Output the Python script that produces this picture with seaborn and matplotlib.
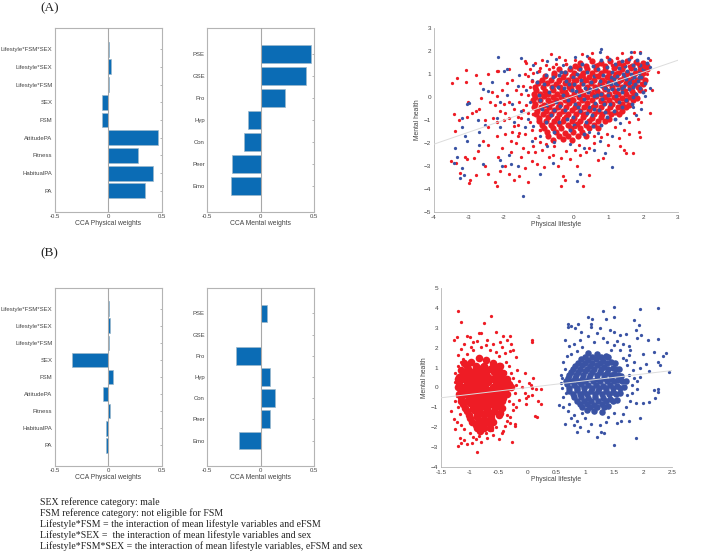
import matplotlib
matplotlib.use("Agg")
import matplotlib.pyplot as plt
import pandas as pd
import seaborn as sns

physical_labels = ["Lifestyle*FSM*SEX", "Lifestyle*SEX", "Lifestyle*FSM", "SEX", "FSM",
                   "AttitudePA", "Fitness", "HabitualPA", "PA"]
mental_labels = ["PSE", "GSE", "Pro", "Hyp", "Con", "Peer", "Emo"]

a_physical = [0.005, 0.025, 0.01, -0.055, -0.06, 0.465, 0.28, 0.425, 0.35]
a_mental = [0.47, 0.425, 0.23, -0.115, -0.155, -0.265, -0.28]
b_physical = [0.012, 0.02, 0.01, -0.34, 0.045, -0.045, 0.015, -0.015, -0.015]
b_mental = [0.06, 0.003, -0.225, 0.085, 0.135, 0.085, -0.2]

# fitted lines, read at the ends of the axes
a_line_x = [-4, 3]
a_line_y = [-2.05, 1.6]
b_line_x = [-1.5, 2.5]
b_line_y = [-0.52, 0.85]

# the clouds hold thousands of dots, these are estimates of what can be made out
a_red_out = [(-3.48, .6), (-3.33, .84), (-3.07, 1.18), (-3.07, .67), (-2.8, .96), (-2.69, .61), (-2.44, 1.0),
             (-2.2, 1.15), (-2.15, 1.12), (-1.85, 1.2), (-3.43, -.74), (-3.41, -1.47), (-3.28, -.99), (-3.02, -.23),
             (-3.05, -.85), (-2.9, -.7), (-2.8, -.6), (-2.7, -.5), (-2.65, -.05), (-2.4, -.2), (-2.35, .22),
             (-2.2, .05), (-2.05, .3), (-2.0, -.3), (-1.9, .6), (-1.75, .75), (-2.1, -.6), (-2.3, -.9), (-2.55, -1.0),
             (-2.45, -1.3), (-2.2, -1.1), (-2.0, -1.0), (-1.85, -.9), (-1.7, -.5), (-1.65, .3), (-3.5, -2.8),
             (-3.37, -2.85), (-3.25, -3.32), (-3.0, -3.72), (-2.96, -3.6), (-3.1, -2.6), (-3.05, -2.7), (-2.85, -2.65),
             (-2.75, -2.35), (-2.8, -3.4), (-2.55, -3.0), (-2.45, -3.35), (-2.25, -3.7), (-2.2, -3.85), (-2.1, -3.2),
             (-2.15, -2.6), (-2.05, -2.2), (-1.95, -3.0), (-1.85, -3.35), (-1.8, -2.4), (-1.7, -3.6), (-1.65, -2.0),
             (-2.6, -1.9), (-2.45, -2.1), (-2.2, -1.7), (-1.95, -1.6), (-1.75, -1.5), (-1.6, -1.2), (-1.55, -3.45),
             (-1.3, -3.7), (-1.4, -3.1), (-1.2, -2.8), (-1.05, -2.9), (-.9, -2.3), (-.85, -3.05), (-.6, -2.5),
             (-.35, -3.85), (-.45, -3.0), (-.3, -3.45), (-.25, -3.6), (-.1, -2.7), (.1, -3.0), (.2, -2.5), (.28, -3.85),
             (.45, -3.4), (.35, -2.4), (.7, -2.75), (.85, -2.65), (1.0, -2.1), (1.35, -2.15), (1.45, -2.3), (1.5, -2.45),
             (1.7, -2.43), (1.9, -1.75), (1.87, -1.5), (2.2, -.7), (2.25, .3), (2.43, 1.1), (1.6, -1.6), (1.3, -1.8),
             (.6, -2.0), (-1.4, 1.55), (-1.35, 1.5), (-1.1, 1.5), (-.9, 1.6), (-.65, 1.85), (-.4, 1.75), (.25, 1.85),
             (.52, 1.9), (-.8, 1.4), (-1.25, 1.2), (1.4, 1.9), (1.75, 1.95), (1.9, 1.95), (2.2, 1.6), (2.1, 1.0),
             (-1.55, -.2), (-1.45, .5), (-1.5, -.9), (-1.6, -1.7), (-1.4, -1.6), (-1.45, -2.2), (-1.3, -2.4),
             (-1.15, -2.15), (-.7, -2.6), (-.2, -2.35), (.05, -2.3), (.6, -1.7), (.95, -1.6), (1.2, -1.3), (1.6, -1.1),
             (1.75, -.7), (1.95, -.2), (2.05, .3), (-1.3, .9), (-1.25, .45), (-1.3, .1), (-1.35, -.35), (-1.3, -.7),
             (-1.25, -1.1), (-1.2, -1.45), (-1.1, -1.8), (-.95, -1.95), (-.8, -2.05), (-1.45, -.55), (-1.5, .15),
             (-1.6, -.85), (-1.7, -1.25), (-1.55, -1.55), (-1.4, 1.0), (-1.15, 1.05), (-.95, 1.25), (-.7, 1.2),
             (-.5, 1.45), (-.25, 1.6), (.05, 1.6), (-1.85, -.2), (-1.95, -.7), (-2.25, -.35), (-1.8, -1.9), (-1.5, -2.6),
             (-1.1, -2.4), (-.55, -2.15), (-.35, -2.65), (.15, -2.1), (.45, -2.2), (.8, -1.75), (1.45, -1.45), (1.85, -.95)]

a_blue_out = [(-2.15, 1.72), (-1.5, 1.7), (-2.0, 1.15), (-1.9, 1.2), (-2.35, .65), (-2.6, .35), (-2.45, .25),
              (-3.05, -.3), (-3.0, -.25), (-3.2, -.9), (-3.4, -2.2), (-3.42, -2.85), (-3.35, -2.6), (-3.2, -3.1),
              (-3.25, -3.5), (-3.15, -3.4), (-3.05, -1.9), (-3.1, -1.7), (-3.2, -1.3), (-2.75, -1.0), (-2.7, -1.5),
              (-2.55, -1.2), (-2.7, -2.1), (-2.6, -2.9), (-2.2, -.9), (-2.1, -1.3), (-2.1, -.2), (-1.9, .1), (-1.7, -1.1),
              (-2.1, -2.75), (-2.05, -3.0), (-1.85, -2.5), (-1.8, -2.9), (-1.6, -3.0), (-1.45, -4.3), (-.95, -3.35),
              (.1, -3.65), (.18, -3.35), (-.6, -2.85), (.3, -2.2), (.6, -2.3), (.9, -2.45), (1.1, -3.03), (.75, -1.9),
              (1.1, -1.7), (1.8, -.8), (1.95, -.5), (2.2, .4), (2.2, 1.3), (2.15, 1.7), (1.9, 1.9), (1.65, 1.95),
              (.8, 2.1), (.75, 1.95), (.4, 1.8), (.05, 1.75), (-.5, 1.65), (-1.15, 1.4), (-1.6, .5), (-1.5, -.6),
              (-1.4, -1.3), (-1.2, -1.9), (-.75, -2.15), (-.1, -2.05), (.45, -1.5), (1.5, -.9), (-1.35, .3), (-1.25, -.2),
              (-1.2, .75), (-1.3, -.95), (-1.15, -1.25), (-1.75, -.3), (-1.55, .95), (-1.05, 1.1), (-.75, 1.55), (-.3, 1.4),
              (-.95, -1.7), (-.55, -1.95), (.7, -1.55), (1.35, -1.15), (1.7, -.45), (2.05, .05)]

a_red_core = [(.2, 1.5), (.52, 1.55), (.8, 1.48), (1.05, 1.55), (1.3, 1.5), (1.55, 1.58), (1.8, 1.52), (2.0, 1.48),
              (-.42, 1.22), (-.1, 1.2), (.15, 1.26), (.4, 1.2), (.66, 1.23), (.9, 1.18), (1.15, 1.25), (1.4, 1.2),
              (1.66, 1.24), (1.9, 1.18), (2.1, 1.22), (-.82, .9), (-.55, .95), (-.3, .88), (-.05, .93), (.2, .9), (.46, .86),
              (.7, .93), (.95, .88), (1.2, .92), (1.46, .87), (1.7, .93), (1.95, .88), (-1.02, .6), (-.75, .63), (-.5, .57),
              (-.25, .62), (0, .58), (.25, .63), (.5, .6), (.75, .56), (1, .62), (1.25, .58), (1.5, .63), (1.75, .57),
              (2.0, .55), (-1.08, .3), (-.82, .27), (-.58, .32), (-.32, .28), (-.08, .33), (.18, .27), (.42, .31), (.68, .28),
              (.92, .33), (1.18, .27), (1.42, .3), (1.68, .25), (1.9, .3), (-1.1, 0), (-.85, .03), (-.6, -.02), (-.35, .02),
              (-.1, -.03), (.15, .02), (.4, -.02), (.65, .03), (.9, -.02), (1.15, .02), (1.4, -.03), (1.62, 0), (1.82, -.05),
              (-1.1, -.3), (-.85, -.33), (-.62, -.28), (-.38, -.32), (-.12, -.27), (.12, -.32), (.38, -.28), (.62, -.33),
              (.88, -.28), (1.12, -.32), (1.38, -.3), (1.58, -.35), (-1.05, -.6), (-.8, -.63), (-.55, -.58), (-.3, -.62),
              (-.05, -.57), (.2, -.62), (.45, -.58), (.7, -.63), (.95, -.6), (1.2, -.65), (1.4, -.6), (-.98, -.92),
              (-.72, -.88), (-.48, -.93), (-.22, -.88), (.02, -.92), (.28, -.87), (.52, -.92), (.78, -.88), (1.02, -.95),
              (-.9, -1.2), (-.65, -1.22), (-.4, -1.18), (-.15, -1.23), (.1, -1.18), (.35, -1.22), (.6, -1.2),
              (-.75, -1.52), (-.5, -1.5), (-.25, -1.55), (0, -1.5), (.25, -1.53), (-.6, -1.85), (-.3, -1.82), (-.05, -1.85)]

# level and x positions of the dots that close the gaps between the ones above
a_red_fill = [(1.35, [.05, .35, .65, .92, 1.18, 1.42, 1.68, 1.92, 2.1]),
              (1.05, [-.55, -.25, .02, .28, .53, .78, 1.03, 1.28, 1.53, 1.78, 2.0]),
              (.75, [-.9, -.65, -.4, -.17, .08, .33, .58, .82, 1.08, 1.33, 1.58, 1.83, 2.05]),
              (.45, [-1.1, -.88, -.62, -.38, -.12, .12, .38, .62, .88, 1.12, 1.38, 1.62, 1.85]),
              (.15, [-1.12, -.95, -.72, -.47, -.22, .02, .28, .52, .78, 1.02, 1.28, 1.52, 1.75]),
              (-.15, [-1.15, -.97, -.72, -.5, -.25, 0, .25, .52, .78, 1.02, 1.25, 1.5, 1.72]),
              (-.45, [-1.12, -.92, -.7, -.45, -.2, .05, .3, .55, .8, 1.05, 1.28, 1.5]),
              (-.75, [-1.08, -.88, -.65, -.42, -.15, .08, .32, .58, .82, 1.08, 1.3]),
              (-1.05, [-1.0, -.78, -.55, -.3, -.05, .2, .45, .7, .92]),
              (-1.35, [-.85, -.6, -.35, -.08, .18, .45, .7]),
              (-1.68, [-.72, -.42, -.15, .12, .35])]

a_blue_core = [(-1.0, .1), (-.9, -.5), (-.85, .55), (-.7, .2), (-.65, -.8), (-.6, .85), (-.5, -.2), (-.45, .45), (-.4, -1.1),
               (-.35, 1.1), (-.3, .1), (-.25, -.55), (-.2, .7), (-.15, -.15), (-.1, 1.3), (-.05, .3), (0, -.85), (.02, .55),
               (.05, -.3), (.1, 1.0), (.15, .1), (.2, -.6), (.22, .75), (.25, 1.45), (.3, -.1), (.32, .4), (.35, -1.1), (.4, 1.1),
               (.42, .2), (.45, -.45), (.5, .65), (.52, -.8), (.55, 1.35), (.58, .05), (.6, .9), (.62, -.25), (.65, .4),
               (.7, 1.2), (.72, -.55), (.75, .7), (.78, .15), (.8, 1.6), (.82, -.1), (.85, .95), (.9, .4), (.92, -.65),
               (.95, 1.3), (.98, .65), (1.0, .1), (1.03, 1.65), (1.05, -.3), (1.08, .85), (1.1, .35), (1.12, 1.1), (1.15, -.6),
               (1.18, .6), (1.2, 1.45), (1.22, .05), (1.25, .9), (1.28, .35), (1.3, 1.25), (1.32, -.2), (1.35, .7), (1.38, 1.55),
               (1.4, .2), (1.42, 1.0), (1.45, .5), (1.48, 1.35), (1.5, -.15), (1.52, .8), (1.55, 1.15), (1.58, .35), (1.6, 1.65),
               (1.62, .65), (1.65, 1.0), (1.68, -.3), (1.7, 1.4), (1.72, .45), (1.75, .85), (1.78, 1.2), (1.8, .15), (1.82, 1.6),
               (1.85, .7), (1.88, 1.05), (1.9, .4), (1.92, 1.4), (1.95, .85), (2.0, 1.2), (2.05, .6), (2.1, 1.5), (-.55, -1.5),
               (-.1, -1.45), (.3, -1.6), (-.8, -1.1), (.8, -1.2), (1.2, -.95), (-1.05, .65), (-.95, -.15), (-.78, .95), (-.75, -.35),
               (-.62, .45), (-.55, -.55), (-.42, .95), (-.38, -.4), (-.28, .4), (-.18, -.95), (-.12, .55), (-.02, .85), (.08, .25),
               (.12, -.45), (.18, 1.2), (.28, .55), (.38, -.7), (.48, .35), (.6, -.5), (.68, .1), (.8, .5), (.88, -.3), (.98, .3),
               (1.08, .55), (1.15, .8), (1.25, .55), (1.38, .4), (1.48, .9), (1.58, .6), (1.68, .75), (1.78, .55), (1.88, .85),
               (-.25, 1.1), (.02, -1.2), (.55, -1.25), (.95, -.85), (1.4, -.45), (1.7, 0), (2.0, .2)]

a_red_top = [(-1.2, .7), (-1.15, -.75), (-1.0, 1.15), (-.95, -1.45), (-.6, 1.3), (-.2, 1.45), (.1, .45), (.3, .85), (.45, 1.7),
             (.55, .3), (.7, 1.45), (.75, -.2), (.85, .55), (.95, 1.75), (1.0, .9), (1.1, 1.4), (1.15, .2), (1.25, 1.7), (1.3, .65),
             (1.35, 1.1), (1.45, 1.45), (1.5, .3), (1.55, .95), (1.6, 1.35), (1.65, 1.75), (1.72, .7), (1.8, 1.1), (1.85, 1.45),
             (1.95, .6), (2.02, 1.3), (-.4, .65), (-.1, .05), (.2, .3), (.35, -.4), (.6, .5), (-.7, -.3), (-.3, -.9), (.05, -1.3),
             (-.85, .4), (-.5, .15), (-.2, .25), (.0, .75), (.4, .7), (.65, .95), (.9, .7), (1.2, 1.05), (1.4, .75), (.25, -.75)]

b_red_out = [(-1.2, 3.85), (-1.15, 3.3), (-.63, 3.6), (-.76, 3.22), (-1.28, 2.38), (-1.22, 2.52), (-1.05, 2.6), (-1.0, 2.55),
             (-.85, 2.75), (-.8, 2.75), (-.55, 2.8), (-.42, 2.6), (-.3, 2.6), (-.35, 2.4), (.07, 2.4), (.07, 2.3), (-.95, 2.3),
             (-.7, 2.4), (-.6, 2.2), (-.28, 2.2), (-.25, 1.9), (-.2, 1.55), (-1.2, 1.65), (-1.15, 1.95), (-1.1, 2.2), (-.45, 2.05),
             (-.05, .72), (.1, .5), (-.32, 1.1), (-.18, .9), (-.25, .45), (-.15, .3), (-.1, .0), (.03, .2), (.05, .12), (.08, -.05),
             (-.05, -.3), (-.03, -.55), (0, -.45), (.15, -.1), (.23, -.1), (.07, -.4), (.18, -.7), (.24, -.82), (.13, -1.45),
             (.16, -1.47), (-.02, -.82), (-.15, -.65), (-.2, -1.0), (-.25, -1.15), (-.3, -1.5), (-.22, -1.85), (-.22, -1.95),
             (-.3, -1.8), (-.27, -2.75), (-.45, -2.3), (-.5, -2.6), (-.55, -2.0), (-.7, -2.55), (-.8, -2.75), (-.88, -3.24),
             (-.97, -2.8), (-1.05, -2.85), (-1.1, -2.65), (-1.15, -2.8), (-1.2, -2.95), (-1.17, -2.55), (-1.25, -2.1),
             (-1.32, -1.2), (-1.27, -1.6), (-1.26, -.7), (-1.25, .25), (-1.22, .3), (-1.2, 1.1), (-1.15, -1.9), (-1.22, -1.75),
             (-.95, -2.5), (-.6, -2.4), (-.4, -1.95), (-.35, -1.4), (-1.18, -.3), (-1.2, -1.0), (-1.18, .65), (-.4, 1.75),
             (-.5, 1.6), (-.95, 1.9), (-.8, 2.05), (-.65, 1.9), (-.38, 1.3), (-.4, .8), (-.35, -.1), (-.32, -.7), (-1.12, 1.45),
             (-1.05, 1.7), (-.98, 2.05), (-.88, 2.35), (-.72, 2.15), (-.55, 1.8), (-.48, 2.3), (-.3, 1.85), (-.28, .75), (-.2, .1),
             (-.22, -.3), (-.26, -.85), (-.36, -1.7), (-.42, -2.2), (-.62, -2.15), (-.85, -2.45), (-1.0, -2.3), (-1.1, -2.1),
             (-1.17, -1.35), (-1.23, -.45), (-1.25, .75), (-1.15, 1.3), (-.9, -2.6), (-.72, -2.3)]

b_blue_out = [(1.5, 4.03), (2.25, 4.0), (1.95, 3.93), (1.3, 3.82), (1.05, 3.55), (1.12, 3.45), (1.5, 3.52), (1.35, 3.45),
              (.7, 3.2), (.7, 3.05), (.75, 3.1), (.87, 3.2), (.82, 3.0), (.92, 2.8), (1.1, 3.2), (1.1, 3.05), (1.25, 3.0),
              (1.42, 2.9), (1.5, 2.8), (1.6, 2.65), (1.7, 2.7), (1.85, 3.4), (1.93, 3.15), (1.88, 2.9), (1.97, 2.65),
              (1.9, 2.5), (2.08, 2.4), (2.25, 2.42), (2.18, 1.8), (2.4, 1.75), (2.35, 1.6), (2.0, 1.7), (2.25, 1.3), (2.3, 1.15),
              (2.44, .77), (2.1, .85), (2.05, 1.2), (1.85, 1.3), (1.95, 1.0), (.65, 2.4), (.8, 2.2), (.72, 2.1), (.75, 1.7),
              (.62, 1.3), (.57, .65), (.6, .45), (.6, -.05), (.62, -.5), (.55, -.9), (.62, -1.0), (.7, -1.2), (.65, -1.82),
              (.8, -1.9), (.85, -2.25), (.9, -2.0), (1.05, -2.2), (1.2, -2.5), (1.33, -2.28), (1.27, -2.25), (1.5, -2.88),
              (1.88, -2.56), (1.55, -1.8), (1.75, -1.7), (1.95, -1.55), (1.87, -.8), (1.78, -.7), (2.1, -.75), (2.0, -.8),
              (2.25, -.1), (2.25, -.25), (2.2, -.55), (2.18, -.15), (1.9, -.1), (1.8, .1), (1.9, .3), (1.75, .65), (1.8, -.3),
              (1.7, -1.0), (1.65, -1.35), (1.4, -1.5), (1.25, -1.9), (1.0, -1.55), (.95, -1.3), (.8, -1.4), (1.6, 1.9), (1.75, 1.65),
              (.9, 2.4), (1.3, 2.5), (1.15, 2.3), (1.5, 2.15), (.65, .95), (.7, .15), (1.75, 2.1), (1.65, 1.5), (1.72, 1.15),
              (.85, 1.85), (.95, 2.05), (1.05, 2.6), (1.2, 2.75), (1.38, 2.3), (1.55, 2.35), (1.65, 2.2), (1.45, 1.9), (1.78, 1.9),
              (.68, 1.6), (.72, -.85), (.75, -1.55), (.85, -1.7), (1.1, -1.85), (1.35, -1.75), (1.5, -1.3), (1.62, -1.7), (1.72, -.4),
              (1.85, .45), (1.82, .9), (1.95, .55), (1.7, 1.4), (.58, .2), (.66, -.3)]

b_red_core = [(-1.1, 1.25), (-.98, 1.3), (-.85, 1.5), (-.72, 1.4), (-.6, 1.25), (-.5, 1.1), (-1.15, .9), (-1.03, .95), (-.9, .98),
              (-.78, 1.02), (-.65, .95), (-.53, .9), (-.42, .75), (-1.18, .55), (-1.05, .6), (-.93, .58), (-.8, .62), (-.68, .55),
              (-.55, .6), (-.44, .45), (-1.18, .2), (-1.05, .25), (-.93, .18), (-.8, .22), (-.68, .25), (-.55, .18), (-.42, .2),
              (-.32, .15), (-1.15, -.15), (-1.03, -.1), (-.9, -.18), (-.78, -.12), (-.65, -.15), (-.53, -.1), (-.42, -.2),
              (-1.15, -.5), (-1.02, -.45), (-.9, -.52), (-.78, -.47), (-.65, -.5), (-.52, -.55), (-.42, -.52), (-1.12, -.85),
              (-1.0, -.8), (-.88, -.88), (-.75, -.82), (-.63, -.85), (-.5, -.9), (-1.05, -1.2), (-.93, -1.15), (-.82, -1.22),
              (-.7, -1.18), (-.58, -1.2), (-.47, -1.3), (-1.0, -1.55), (-.88, -1.5), (-.76, -1.58), (-.64, -1.52), (-.9, -1.9),
              (-.78, -1.88), (-.66, -1.85), (-.82, -2.2)]

b_red_fill = [(1.1, [-1.05, -.9, -.75, -.6, -.48]),
              (.78, [-1.12, -.97, -.84, -.72, -.58, -.47]),
              (.4, [-1.2, -1.1, -.98, -.86, -.74, -.6, -.48, -.36]),
              (.02, [-1.2, -1.1, -.98, -.85, -.73, -.6, -.48, -.36, -.28]),
              (-.32, [-1.18, -1.08, -.96, -.84, -.72, -.58, -.46, -.36]),
              (-.68, [-1.15, -1.05, -.94, -.82, -.7, -.57, -.45]),
              (-1.02, [-1.08, -.95, -.82, -.7, -.56, -.45]),
              (-1.37, [-1.02, -.88, -.76, -.63, -.5]),
              (-1.72, [-.96, -.84, -.72, -.6]),
              (-2.05, [-.88, -.75, -.65])]

b_blue_core = [(1.05, 1.75), (1.2, 1.7), (1.35, 1.6), (.92, 1.45), (1.05, 1.4), (1.18, 1.42), (1.3, 1.35), (1.45, 1.3), (.82, 1.1),
               (.95, 1.15), (1.08, 1.1), (1.2, 1.12), (1.33, 1.05), (1.47, 1.0), (1.58, .95), (.75, .8), (.88, .78), (1.0, .82),
               (1.12, .76), (1.25, .8), (1.38, .75), (1.5, .7), (1.62, .6), (.7, .45), (.82, .5), (.95, .43), (1.07, .48), (1.2, .42),
               (1.32, .47), (1.45, .4), (1.57, .35), (1.7, .3), (.68, .15), (.8, .1), (.93, .16), (1.05, .1), (1.18, .14), (1.3, .08),
               (1.42, .12), (1.55, .05), (1.67, .0), (.72, -.2), (.85, -.15), (.97, -.22), (1.1, -.16), (1.22, -.2), (1.35, -.18),
               (1.48, -.25), (1.6, -.3), (.8, -.5), (.92, -.48), (1.05, -.55), (1.17, -.5), (1.3, -.53), (1.43, -.58), (1.55, -.65),
               (.9, -.85), (1.02, -.82), (1.15, -.88), (1.28, -.85), (1.4, -.95), (1.02, -1.15), (1.15, -1.2), (1.28, -1.25)]

b_blue_fill = [(1.55, [1.0, 1.12, 1.27, 1.4]),
               (1.25, [.88, 1.0, 1.12, 1.25, 1.38, 1.52]),
               (.95, [.78, .9, 1.02, 1.15, 1.27, 1.4, 1.53]),
               (.62, [.72, .84, .96, 1.08, 1.2, 1.32, 1.44, 1.57]),
               (.3, [.66, .76, .88, 1.0, 1.13, 1.26, 1.38, 1.5, 1.63]),
               (-.03, [.72, .86, .98, 1.11, 1.24, 1.36, 1.48, 1.6]),
               (-.35, [.78, .9, 1.03, 1.16, 1.28, 1.41, 1.53]),
               (-.68, [.85, .97, 1.1, 1.22, 1.35, 1.48]),
               (-1.0, [.95, 1.08, 1.2, 1.33])]


def weights(ax, labels, values, xlabel):
    data = pd.DataFrame({"label": labels, "weight": values})
    sns.barplot(data=data, x="weight", y="label", order=labels, orient="h", color="#0b6cb5",
                saturation=1, width=0.84, edgecolor="#9db8cc", linewidth=0.5, ax=ax)
    ax.set_xlim(-0.5, 0.5)
    ax.set_ylim(len(labels) - 1 + 1.2, -1.2)
    ax.set_xticks([-0.5, 0, 0.5], ["-0.5", "0", "0.5"])
    ax.axvline(0, color="#a8a8a8", lw=0.8, zorder=5)
    ax.tick_params(length=1.5, width=0.5, color="#999999", direction="in", labelsize=4.3,
                   labelcolor="#444444", pad=1.5, right=True)
    ax.set_xlabel(xlabel, fontsize=4.9, color="#444444", labelpad=1)
    ax.set_ylabel("")
    for s in ax.spines.values():
        s.set_color("#b4b4b4")
        s.set_linewidth(0.8)


def dots(ax, points, color, size):
    data = pd.DataFrame(points, columns=["x", "y"])
    sns.scatterplot(data=data, x="x", y="y", color=color, s=size, linewidth=0, ax=ax)


def rows(fill):
    return [(x, level) for level, xs in fill for x in xs]


def cloud(ax, xlim, ylim, xticks, xtext, yticks, line_x, line_y):
    sns.lineplot(x=line_x, y=line_y, color="#dcdcdc", lw=0.7, zorder=6, ax=ax)
    ax.set_xlim(*xlim)
    ax.set_ylim(*ylim)
    ax.set_xticks(xticks, xtext)
    ax.set_yticks(yticks)
    ax.tick_params(length=1.5, width=0.5, color="#999999", direction="in", labelsize=4.6,
                   labelcolor="#444444", pad=2)
    ax.set_xlabel("Physical lifestyle", fontsize=4.9, color="#444444", labelpad=1)
    ax.set_ylabel("Mental health", fontsize=4.9, color="#444444", labelpad=2)
    sns.despine(ax=ax)
    for name in ["left", "bottom"]:
        ax.spines[name].set_color("#b4b4b4")
        ax.spines[name].set_linewidth(0.6)


sns.set_theme(style="white")
plt.rcParams["font.family"] = ["Liberation Sans", "DejaVu Sans"]

W, H = 708, 557
fig = plt.figure(figsize=(W / 100, H / 100), dpi=100)


def axes_px(x0, x1, y0, y1):
    return fig.add_axes([x0 / W, 1 - y1 / H, (x1 - x0) / W, (y1 - y0) / H])


weights(axes_px(54.5, 161.5, 28, 212), physical_labels, a_physical, "CCA Physical weights")
weights(axes_px(207, 314, 28, 212), mental_labels, a_mental, "CCA Mental weights")
weights(axes_px(54.5, 161.5, 288, 466), physical_labels, b_physical, "CCA Physical weights")
weights(axes_px(207, 314, 288, 466), mental_labels, b_mental, "CCA Mental weights")

RED = "#ee1c25"
BLUE = "#3a53a4"

ax = axes_px(434, 678, 28, 212)
dots(ax, a_red_core, RED, 20)
dots(ax, rows(a_red_fill), RED, 20)
dots(ax, a_red_out, RED, 5.5)
dots(ax, a_blue_out, BLUE, 5.5)
dots(ax, a_blue_core, BLUE, 8)
dots(ax, a_red_top, RED, 7)
cloud(ax, (-4, 3), (-5, 3), range(-4, 4), [str(v) for v in range(-4, 4)], range(-5, 4), a_line_x, a_line_y)

ax = axes_px(441, 672, 288, 467)
dots(ax, b_red_core, RED, 30)
dots(ax, rows(b_red_fill), RED, 30)
dots(ax, b_red_out, RED, 5.5)
dots(ax, b_blue_core, BLUE, 22)
dots(ax, rows(b_blue_fill), BLUE, 22)
dots(ax, b_blue_out, BLUE, 5.5)
cloud(ax, (-1.5, 2.5), (-4, 5), [-1.5, -1, -0.5, 0, 0.5, 1, 1.5, 2, 2.5],
      ["-1.5", "-1", "-0.5", "0", "0.5", "1", "1.5", "2", "2.5"], range(-4, 6), b_line_x, b_line_y)

fig.text(40 / W, 1 - 8 / H, "(A)", family="Liberation Serif", fontsize=9.5, color="#222222", va="center")
fig.text(40 / W, 1 - 253 / H, "(B)", family="Liberation Serif", fontsize=9.5, color="#222222", va="center")

notes = ["SEX reference category: male",
         "FSM reference category: not eligible for FSM",
         "Lifestyle*FSM = the interaction of mean lifestyle variables and eFSM",
         "Lifestyle*SEX =  the interaction of mean lifestyle variables and sex",
         "Lifestyle*FSM*SEX = the interaction of mean lifestyle variables, eFSM and sex"]
for i, line in enumerate(notes):
    fig.text(40 / W, 1 - (502 + 11 * i) / H, line, family="Liberation Serif", fontsize=7.1,
             color="#222222", va="center")

fig.savefig("out.png", dpi=100)
